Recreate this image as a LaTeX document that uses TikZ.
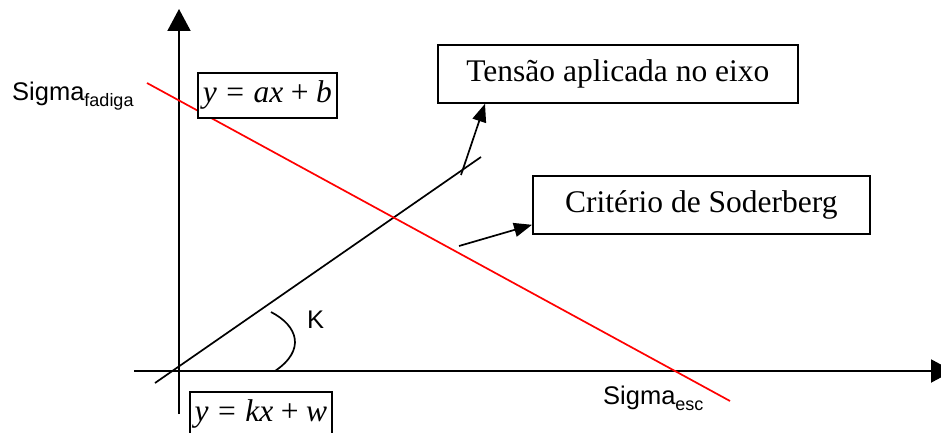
\documentclass[tikz,border=0pt]{standalone}
\usepackage{fontspec}
\setmainfont{Liberation Serif}
\newfontfamily\arialfont{Liberation Sans}
\usetikzlibrary{arrows.meta}

\tikzset{
  caixa/.style={draw, line width=1.8pt, fill=white, inner sep=0pt,
    font=\fontsize{31.5}{36}\selectfont},
  eixo/.style={line width=2pt, -{Triangle[length=22pt,width=23pt]}},
  seta/.style={line width=1.7pt, -{Triangle[length=18pt,width=14pt]}},
  rotulo/.style={font=\arialfont\fontsize{25.5}{30}\selectfont, inner sep=0pt},
}
\newcommand{\eqtxt}[3]{\textit{y}\hspace{.3em}=\hspace{.3em}\textit{#1#2}\hspace{.24em}+\hspace{.24em}\textit{#3}}

\begin{document}
\begin{tikzpicture}[x=1pt, y=-1pt]
        \useasboundingbox (0,0) rectangle (941,433);
        \clip (0,0) rectangle (941,433);
        \coordinate (yb) at (179,414);
        \coordinate (yt) at (179,9);
        \coordinate (xl) at (134,371);
        \coordinate (xr) at (953,371);
        \draw[eixo] (yb) -- (yt);
        \draw[eixo] (xl) -- (xr);
        \coordinate (kb) at (155,383);
        \coordinate (kt) at (481,157);
        \draw[line width=1.7pt] (kb) -- (kt);
        \coordinate (ra) at (147,83);
        \coordinate (rb) at (730,401);
        \draw[red, line width=1.7pt] (ra) -- (rb);
        \draw[line width=1.7pt] (271,312) .. controls (298,326) and (306,350) .. (275,371);
        \node[caixa, minimum width=139pt, minimum height=45pt, anchor=north west]
        (eqa) at (197,72) {\eqtxt{a}{x}{b}};
        \node[caixa, minimum width=142pt, minimum height=45pt, anchor=north west]
        (eqk) at (189,391) {\eqtxt{k}{x}{w}};
        \node[caixa, minimum width=360pt, minimum height=58pt, anchor=north west]
        (tensao) at (437,44) {Tensão aplicada no eixo};
        \node[caixa, minimum width=337pt, minimum height=58pt, anchor=north west]
        (crit) at (532,175) {Critério de Soderberg};
        \coordinate (ct) at (461,175);
        \coordinate (cs) at (459,246);
        \draw[seta] (ct) -- ([xshift=48pt]tensao.south west);
        \draw[seta] (cs) -- ([yshift=10pt]crit.south west);
        \node[rotulo, anchor=base west] (sfad) at (12,100)
        {Sigma\raisebox{-6pt}{\fontsize{18}{20}\selectfont fadiga}};
        \node[rotulo, anchor=base west] (sesc) at (603,404)
        {Sigma\raisebox{-6pt}{\fontsize{18}{20}\selectfont esc}};
        \node[rotulo, anchor=base west] (kang) at (307,328) {K};
\end{tikzpicture}
\end{document}
